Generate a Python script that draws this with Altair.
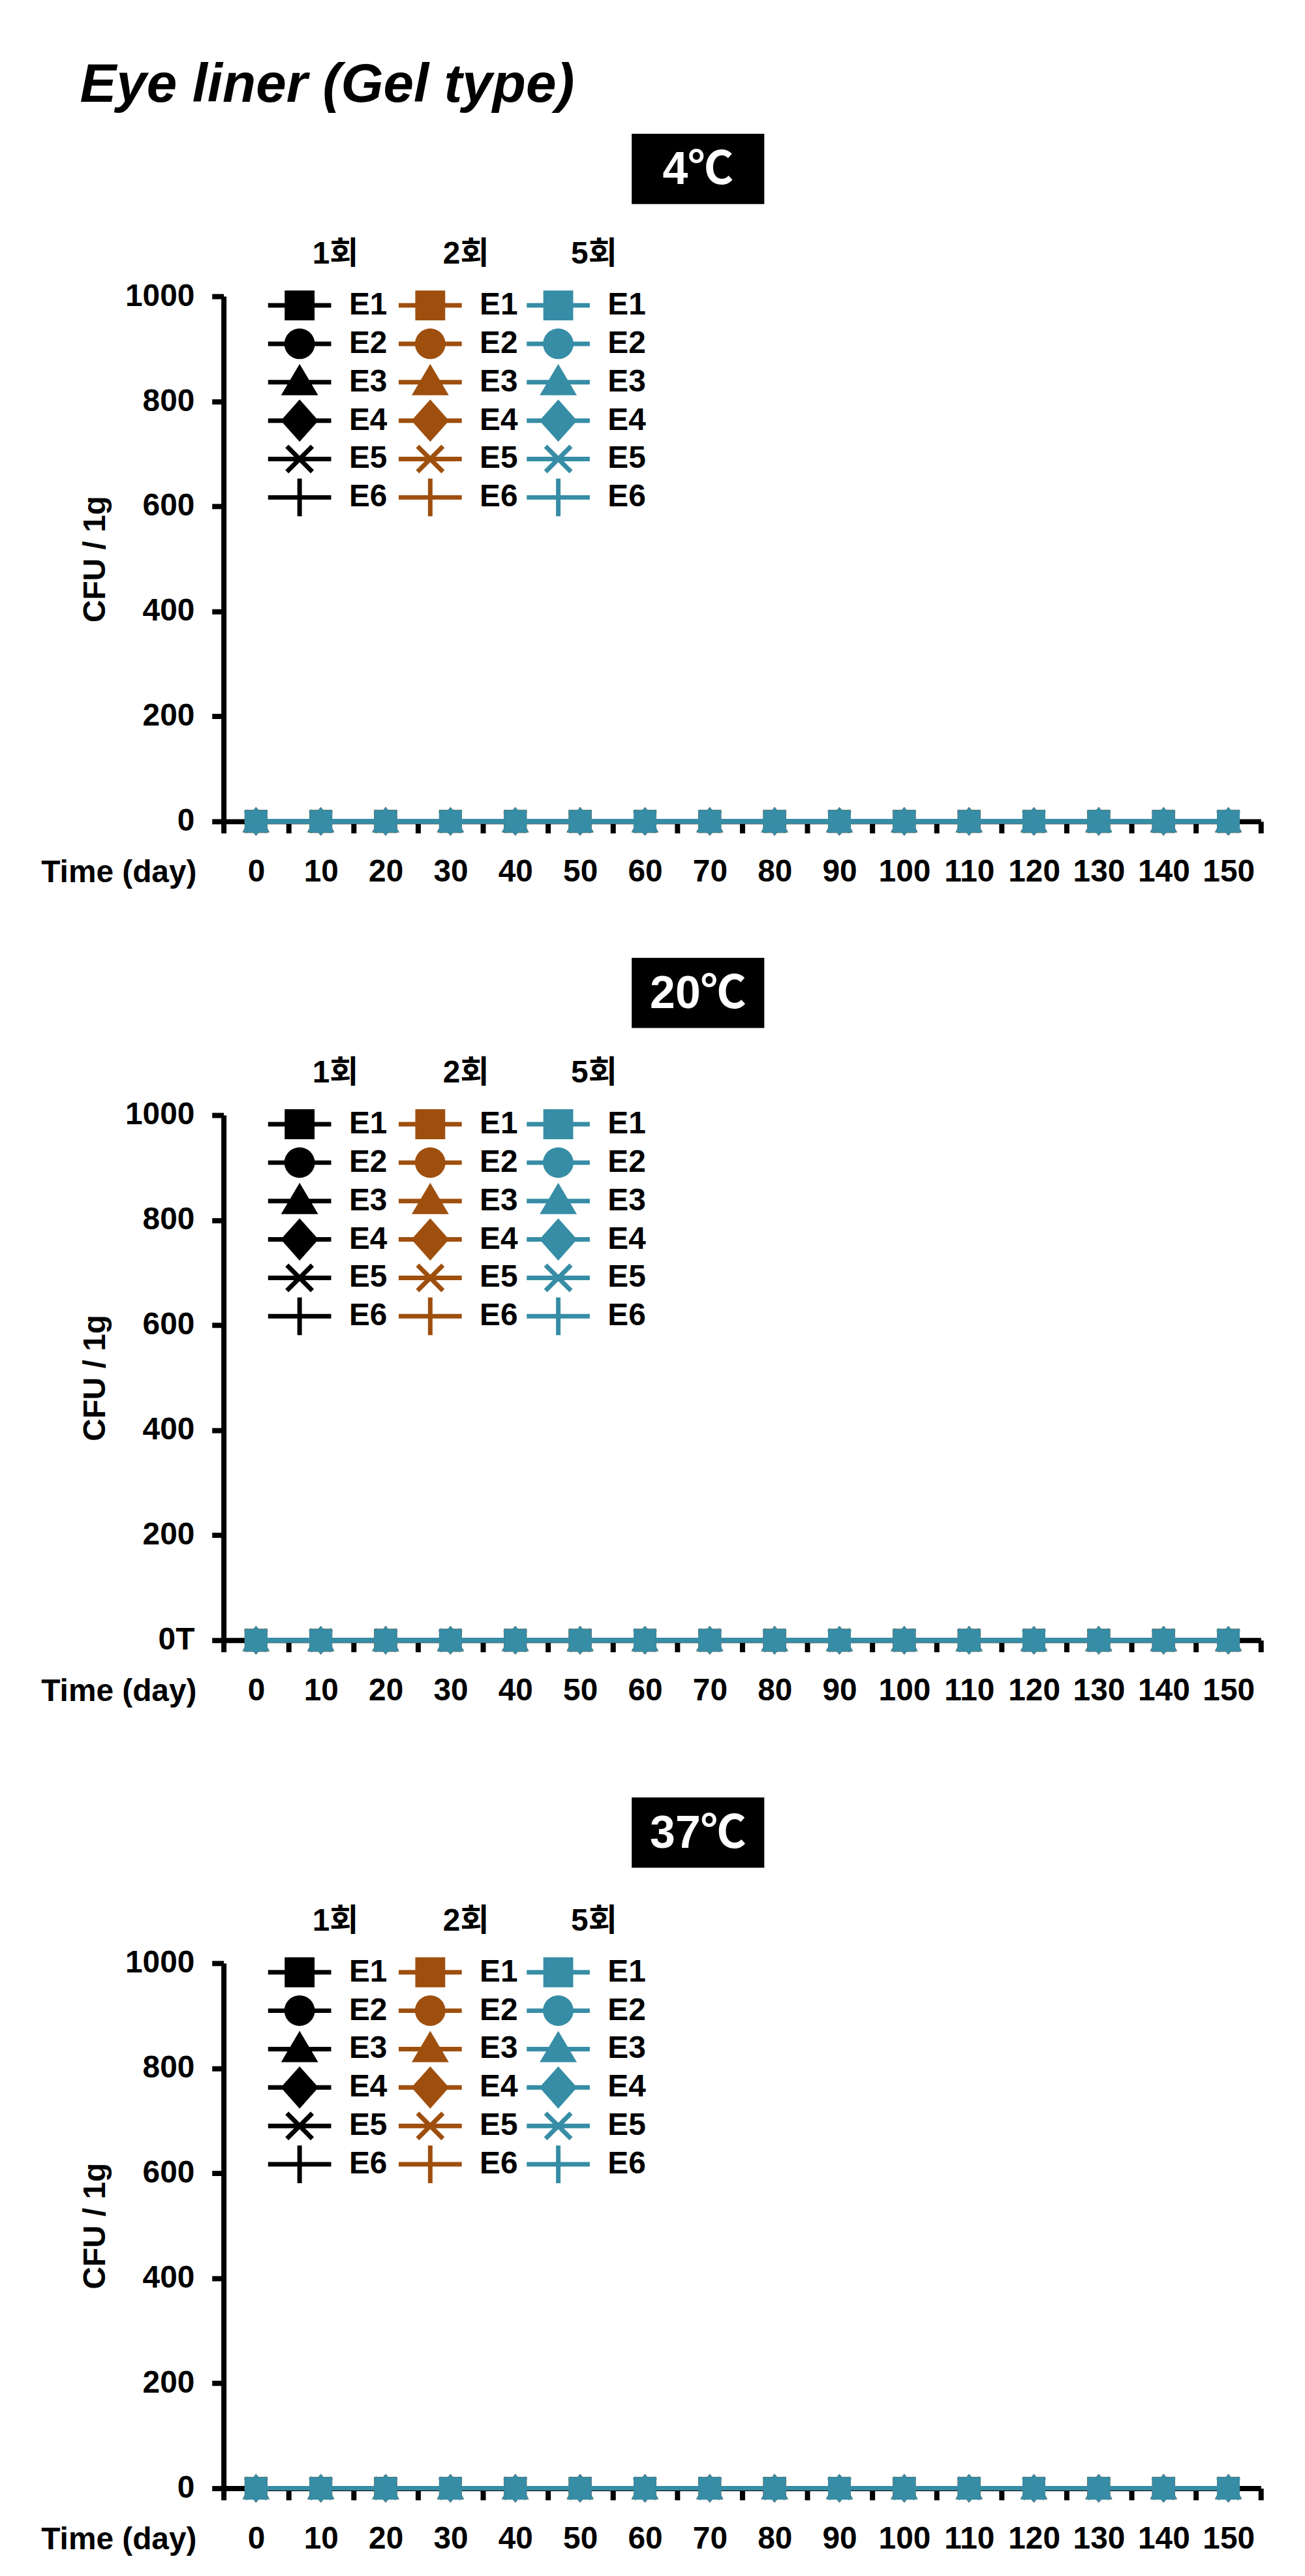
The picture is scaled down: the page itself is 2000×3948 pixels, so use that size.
import altair as alt
import pandas as pd

FONT = "Liberation Sans, Arial, Noto Sans CJK KR, sans-serif"

# ---------------- data ----------------
DAYS = [0, 10, 20, 30, 40, 50, 60, 70, 80, 90, 100, 110, 120, 130, 140, 150]
SAMPLES = ["E1", "E2", "E3", "E4", "E5", "E6"]
DOSES = ["1회", "2회", "5회"]
TEMPS = ["4℃", "20℃", "37℃"]
Y_TICKS = [0, 200, 400, 600, 800, 1000]
Y_ZERO_LABEL = ["0", "0T", "0"]
X_TICKS = [-5, 5, 15, 25, 35, 45, 55, 65, 75, 85, 95, 105, 115, 125, 135, 145, 155]

CFU_4C_1 = {
    "E1": [0, 0, 0, 0, 0, 0, 0, 0, 0, 0, 0, 0, 0, 0, 0, 0],
    "E2": [0, 0, 0, 0, 0, 0, 0, 0, 0, 0, 0, 0, 0, 0, 0, 0],
    "E3": [0, 0, 0, 0, 0, 0, 0, 0, 0, 0, 0, 0, 0, 0, 0, 0],
    "E4": [0, 0, 0, 0, 0, 0, 0, 0, 0, 0, 0, 0, 0, 0, 0, 0],
    "E5": [0, 0, 0, 0, 0, 0, 0, 0, 0, 0, 0, 0, 0, 0, 0, 0],
    "E6": [0, 0, 0, 0, 0, 0, 0, 0, 0, 0, 0, 0, 0, 0, 0, 0],
}
CFU_4C_2 = {
    "E1": [0, 0, 0, 0, 0, 0, 0, 0, 0, 0, 0, 0, 0, 0, 0, 0],
    "E2": [0, 0, 0, 0, 0, 0, 0, 0, 0, 0, 0, 0, 0, 0, 0, 0],
    "E3": [0, 0, 0, 0, 0, 0, 0, 0, 0, 0, 0, 0, 0, 0, 0, 0],
    "E4": [0, 0, 0, 0, 0, 0, 0, 0, 0, 0, 0, 0, 0, 0, 0, 0],
    "E5": [0, 0, 0, 0, 0, 0, 0, 0, 0, 0, 0, 0, 0, 0, 0, 0],
    "E6": [0, 0, 0, 0, 0, 0, 0, 0, 0, 0, 0, 0, 0, 0, 0, 0],
}
CFU_4C_5 = {
    "E1": [0, 0, 0, 0, 0, 0, 0, 0, 0, 0, 0, 0, 0, 0, 0, 0],
    "E2": [0, 0, 0, 0, 0, 0, 0, 0, 0, 0, 0, 0, 0, 0, 0, 0],
    "E3": [0, 0, 0, 0, 0, 0, 0, 0, 0, 0, 0, 0, 0, 0, 0, 0],
    "E4": [0, 0, 0, 0, 0, 0, 0, 0, 0, 0, 0, 0, 0, 0, 0, 0],
    "E5": [0, 0, 0, 0, 0, 0, 0, 0, 0, 0, 0, 0, 0, 0, 0, 0],
    "E6": [0, 0, 0, 0, 0, 0, 0, 0, 0, 0, 0, 0, 0, 0, 0, 0],
}
CFU_20C_1 = {
    "E1": [0, 0, 0, 0, 0, 0, 0, 0, 0, 0, 0, 0, 0, 0, 0, 0],
    "E2": [0, 0, 0, 0, 0, 0, 0, 0, 0, 0, 0, 0, 0, 0, 0, 0],
    "E3": [0, 0, 0, 0, 0, 0, 0, 0, 0, 0, 0, 0, 0, 0, 0, 0],
    "E4": [0, 0, 0, 0, 0, 0, 0, 0, 0, 0, 0, 0, 0, 0, 0, 0],
    "E5": [0, 0, 0, 0, 0, 0, 0, 0, 0, 0, 0, 0, 0, 0, 0, 0],
    "E6": [0, 0, 0, 0, 0, 0, 0, 0, 0, 0, 0, 0, 0, 0, 0, 0],
}
CFU_20C_2 = {
    "E1": [0, 0, 0, 0, 0, 0, 0, 0, 0, 0, 0, 0, 0, 0, 0, 0],
    "E2": [0, 0, 0, 0, 0, 0, 0, 0, 0, 0, 0, 0, 0, 0, 0, 0],
    "E3": [0, 0, 0, 0, 0, 0, 0, 0, 0, 0, 0, 0, 0, 0, 0, 0],
    "E4": [0, 0, 0, 0, 0, 0, 0, 0, 0, 0, 0, 0, 0, 0, 0, 0],
    "E5": [0, 0, 0, 0, 0, 0, 0, 0, 0, 0, 0, 0, 0, 0, 0, 0],
    "E6": [0, 0, 0, 0, 0, 0, 0, 0, 0, 0, 0, 0, 0, 0, 0, 0],
}
CFU_20C_5 = {
    "E1": [0, 0, 0, 0, 0, 0, 0, 0, 0, 0, 0, 0, 0, 0, 0, 0],
    "E2": [0, 0, 0, 0, 0, 0, 0, 0, 0, 0, 0, 0, 0, 0, 0, 0],
    "E3": [0, 0, 0, 0, 0, 0, 0, 0, 0, 0, 0, 0, 0, 0, 0, 0],
    "E4": [0, 0, 0, 0, 0, 0, 0, 0, 0, 0, 0, 0, 0, 0, 0, 0],
    "E5": [0, 0, 0, 0, 0, 0, 0, 0, 0, 0, 0, 0, 0, 0, 0, 0],
    "E6": [0, 0, 0, 0, 0, 0, 0, 0, 0, 0, 0, 0, 0, 0, 0, 0],
}
CFU_37C_1 = {
    "E1": [0, 0, 0, 0, 0, 0, 0, 0, 0, 0, 0, 0, 0, 0, 0, 0],
    "E2": [0, 0, 0, 0, 0, 0, 0, 0, 0, 0, 0, 0, 0, 0, 0, 0],
    "E3": [0, 0, 0, 0, 0, 0, 0, 0, 0, 0, 0, 0, 0, 0, 0, 0],
    "E4": [0, 0, 0, 0, 0, 0, 0, 0, 0, 0, 0, 0, 0, 0, 0, 0],
    "E5": [0, 0, 0, 0, 0, 0, 0, 0, 0, 0, 0, 0, 0, 0, 0, 0],
    "E6": [0, 0, 0, 0, 0, 0, 0, 0, 0, 0, 0, 0, 0, 0, 0, 0],
}
CFU_37C_2 = {
    "E1": [0, 0, 0, 0, 0, 0, 0, 0, 0, 0, 0, 0, 0, 0, 0, 0],
    "E2": [0, 0, 0, 0, 0, 0, 0, 0, 0, 0, 0, 0, 0, 0, 0, 0],
    "E3": [0, 0, 0, 0, 0, 0, 0, 0, 0, 0, 0, 0, 0, 0, 0, 0],
    "E4": [0, 0, 0, 0, 0, 0, 0, 0, 0, 0, 0, 0, 0, 0, 0, 0],
    "E5": [0, 0, 0, 0, 0, 0, 0, 0, 0, 0, 0, 0, 0, 0, 0, 0],
    "E6": [0, 0, 0, 0, 0, 0, 0, 0, 0, 0, 0, 0, 0, 0, 0, 0],
}
CFU_37C_5 = {
    "E1": [0, 0, 0, 0, 0, 0, 0, 0, 0, 0, 0, 0, 0, 0, 0, 0],
    "E2": [0, 0, 0, 0, 0, 0, 0, 0, 0, 0, 0, 0, 0, 0, 0, 0],
    "E3": [0, 0, 0, 0, 0, 0, 0, 0, 0, 0, 0, 0, 0, 0, 0, 0],
    "E4": [0, 0, 0, 0, 0, 0, 0, 0, 0, 0, 0, 0, 0, 0, 0, 0],
    "E5": [0, 0, 0, 0, 0, 0, 0, 0, 0, 0, 0, 0, 0, 0, 0, 0],
    "E6": [0, 0, 0, 0, 0, 0, 0, 0, 0, 0, 0, 0, 0, 0, 0, 0],
}

CFU = {
    "4℃": {"1회": CFU_4C_1, "2회": CFU_4C_2, "5회": CFU_4C_5},
    "20℃": {"1회": CFU_20C_1, "2회": CFU_20C_2, "5회": CFU_20C_5},
    "37℃": {"1회": CFU_37C_1, "2회": CFU_37C_2, "5회": CFU_37C_5},
}

# ---------------- styling ----------------
DOSE_COLORS = ["#000000", "#9E4F0E", "#378DA6"]

# markers in the plot (unit coordinates, stroked + filled)
PLOT_PATHS = [
    "M-1,-1H1V1H-1Z",
    "M-1,0A1,1,0,1,1,1,0A1,1,0,1,1,-1,0Z",
    "M0,-1.1L1.1,0.95L-1.1,0.95Z",
    "M0,-1.2L1,0L0,1.2L-1,0Z",
    "M-1.1,-1.1L1.1,1.1M-1.1,1.1L1.1,-1.1",
    "M-1.1,0H1.1M0,-1.1V1.1",
]
# legend symbols: filled outlines only, with the series line drawn through them
LEG_LINE = "M-2.11,-0.152H2.11V0.152H-2.11Z"
LEG_EXTENT = "M0,-1.42L0,1.42"
LEG_PATHS = [p + " " + LEG_LINE + " " + LEG_EXTENT for p in [
    "M-1,-1H1V1H-1Z",
    "M-1.02,0A1.02,1.02,0,1,1,1.02,0A1.02,1.02,0,1,1,-1.02,0Z",
    "M0,-1.22L1.24,0.87L-1.24,0.87Z",
    "M0,-1.41L1.26,0L0,1.41L-1.26,0Z",
    "M-0.742,-0.958L0.958,0.742L0.742,0.958L-0.958,-0.742Z "
    "M-0.958,0.742L0.742,-0.958L0.958,-0.742L-0.742,0.958Z",
    "M-0.152,-1.26H0.152V1.26H-0.152Z",
]]

W, H = 1596, 808
LEG_X = [93, 294, 491]
LEG_Y = -88
BOX_TOP = [-250, -242, -255]


def x_axis():
    return alt.Axis(
        values=X_TICKS,
        labelExpr="datum.value < 150 ? format(datum.value + 5, 'd') : ''",
        labelOffset=50,
        labelFlush=False, labelOverlap=False, labelBound=False,
        labelFont=FONT, labelFontSize=48, labelFontWeight="bold", labelColor="black",
        labelPadding=36,
        tickSize=18, tickWidth=8, tickColor="black",
        domainWidth=8, domainColor="black", grid=False,
        title="Time (day)", titleFont=FONT, titleFontSize=48, titleFontWeight="bold",
        titleColor="black", titleX=-281, titleY=93, titleAlign="left",
        titleBaseline="alphabetic", titleAngle=0,
    )


def y_axis(i):
    return alt.Axis(
        values=Y_TICKS, format="d",
        labelExpr="datum.value === 0 ? '%s' : datum.label" % Y_ZERO_LABEL[i],
        labelFont=FONT, labelFontSize=48, labelFontWeight="bold", labelColor="black",
        labelPadding=27,
        tickSize=18, tickWidth=8, tickColor="black",
        domainWidth=8, domainColor="black", grid=False,
        title="CFU / 1g", titleFont=FONT, titleFontSize=48, titleFontWeight="bold",
        titleColor="black", titlePadding=21,
    )


def legend(k, dose, col):
    return alt.Legend(
        title=dose, orient="none", legendX=LEG_X[k], legendY=LEG_Y, direction="vertical",
        titleFont=FONT, titleFontSize=48, titleFontWeight="bold", titleColor="black",
        titleAnchor="middle", titleAlign="center", titlePadding=30,
        labelFont=FONT, labelFontSize=48, labelFontWeight="bold", labelColor="black",
        labelOffset=52,
        symbolSize=2116, symbolStrokeWidth=0, symbolFillColor=col,
        symbolOpacity=1, rowPadding=-6.9, padding=0,
    )


def panel(i, temp):
    rows = []
    for dose in DOSES:
        for e in SAMPLES:
            for d, v in zip(DAYS, CFU[temp][dose][e]):
                rows.append({"day": d, "cfu": v, "dose": dose, "E": e})
    df = pd.DataFrame(rows)
    x = alt.X("day:Q", scale=alt.Scale(domain=[-5, 155], nice=False, zero=False), axis=x_axis())
    y = alt.Y("cfu:Q", scale=alt.Scale(domain=[0, 1000], nice=False), axis=y_axis(i))
    layers = []
    for k, (dose, col) in enumerate(zip(DOSES, DOSE_COLORS)):
        sub = df[df["dose"] == dose]
        # legend carrier: no rows drawn, only its legend (symbols with line through)
        leg = alt.Chart(sub).transform_filter("datum.day < 0").mark_point(
            fill=col, strokeWidth=0, opacity=1, size=1
        ).encode(
            x=x, y=y,
            shape=alt.Shape("E:N", scale=alt.Scale(domain=SAMPLES, range=LEG_PATHS),
                            legend=legend(k, dose, col)),
        )
        line = alt.Chart(sub).mark_line(color=col, strokeWidth=7).encode(
            x=x, y=y, detail="E:N")
        pts = alt.Chart(sub).mark_point(
            fill=col, stroke=col, strokeWidth=5, opacity=1, size=900
        ).encode(
            x=x, y=y,
            shape=alt.Shape("E:N", scale=alt.Scale(domain=SAMPLES, range=PLOT_PATHS),
                            legend=None),
        )
        layers += [leg, line, pts]
    lab = alt.Data(values=[{"label": temp}])
    box = alt.Chart(lab).mark_rect(color="black").encode(
        x=alt.value(628), x2=alt.value(832),
        y=alt.value(BOX_TOP[i]), y2=alt.value(BOX_TOP[i] + 108))
    txt = alt.Chart(lab).mark_text(
        color="white", font=FONT, fontSize=70, fontWeight="bold",
        align="center", baseline="middle"
    ).encode(x=alt.value(730), y=alt.value(BOX_TOP[i] + 56), text="label:N")
    return alt.layer(*layers, box, txt).resolve_scale(shape="independent").properties(
        width=W, height=H)


p1, p2, p3 = [panel(i, t) for i, t in enumerate(TEMPS)]
inner = alt.vconcat(p2, p3, spacing=139).resolve_scale(shape="independent")
chart = alt.vconcat(p1, inner, spacing=107).resolve_scale(shape="independent").properties(
    title=alt.Title("Eye liner (Gel type)", anchor="start", frame="group", dx=-221, offset=31,
                    font=FONT, fontSize=84, fontStyle="italic", fontWeight="bold",
                    color="black"),
    padding={"left": 55, "top": 74, "right": 10, "bottom": 10},
).configure(background="white", view=alt.ViewConfig(stroke=None))

chart.save("out.html", embed_options={"renderer": "svg", "actions": False})
